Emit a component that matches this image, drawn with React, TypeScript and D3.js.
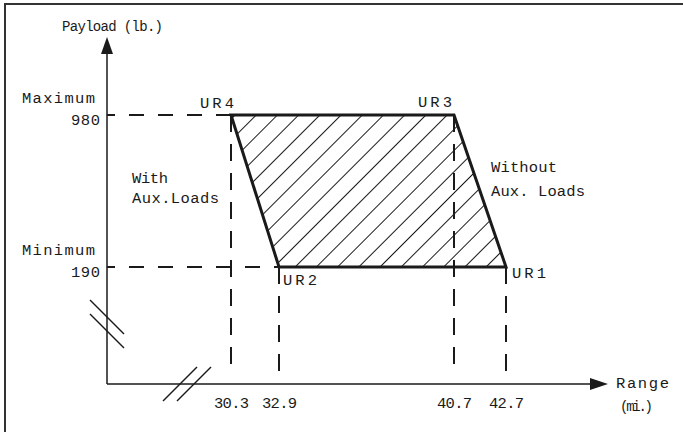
import * as d3 from 'd3';

// axis tick values (schematic, not to scale)
const rangeTicks = [30.3, 32.9, 40.7, 42.7];
const payloadTicks = [190, 980];
const payloadNames = ['Minimum', 'Maximum'];

// envelope corners
const cornerNames = ['UR1', 'UR2', 'UR4', 'UR3'];
const cornerRange = [42.7, 32.9, 30.3, 40.7];
const cornerPayload = [190, 190, 980, 980];

const W = 683;
const H = 432;
const ox = 107; // axis origin
const oy = 384;
const font = '"Liberation Mono", "DejaVu Sans Mono", monospace';
const ink = '#1a1a1a';

// the drawing has broken axes, so each scale is piecewise
const x = d3.scaleLinear().domain(rangeTicks).range([231, 279, 454, 506]);
const y = d3.scaleLinear().domain([190, 980]).range([267, 115]);

const corners = cornerNames.map((name, i) => ({
    name,
    range: cornerRange[i],
    payload: cornerPayload[i],
}));

const labelOffset: Record<string, [number, number]> = {
    UR1: [6, 11],
    UR2: [4, 18],
    UR3: [-36, -8],
    UR4: [-31, -7],
};

const outline = d3.line<{ range: number; payload: number }>()
    .x((d) => x(d.range))
    .y((d) => y(d.payload));

const breakMark = (cx: number, cy: number, dir: number) =>
    `M${cx - 17},${cy - 17 * dir}L${cx + 17},${cy + 17 * dir}`;

// typewriter text, stretched to the width it has in the drawing
const Label = ({ x, y, w, size = 15.5, anchor = 'start', children }: any) => (
    <text
        x={x}
        y={y}
        textLength={w}
        lengthAdjust="spacing"
        textAnchor={anchor}
        fontFamily={font}
        fontSize={size}
        fill={ink}
    >
        {children}
    </text>
);

export default function App() {
    return (
        <svg
            width={W}
            height={H}
            style={{ position: 'absolute', left: 0, top: 0, background: '#fff' }}
        >
            <defs>
                <pattern
                    id="hatch"
                    patternUnits="userSpaceOnUse"
                    width={15}
                    height={15}
                    patternTransform="rotate(45)"
                >
                    <line x1={7.5} y1={0} x2={7.5} y2={15} stroke={ink} strokeWidth={1} />
                </pattern>
            </defs>

            {/* frame */}
            <rect x={5} y={4} width={W + 20} height={H + 20} fill="none" stroke="#333" strokeWidth={2} />

            {/* dashed guides */}
            <g stroke={ink} strokeWidth={2} fill="none">
                {corners
                    .filter((d) => d.name === 'UR2' || d.name === 'UR4')
                    .map((d) => (
                        <line
                            key={'h' + d.name}
                            x1={ox}
                            x2={x(d.range)}
                            y1={y(d.payload)}
                            y2={y(d.payload)}
                            strokeDasharray="15 14"
                            strokeDashoffset={7}
                        />
                    ))}
                {corners.map((d) => (
                    <line
                        key={'v' + d.name}
                        x1={x(d.range)}
                        x2={x(d.range)}
                        y1={y(d.payload)}
                        y2={oy - 11}
                        strokeDasharray="17 12"
                    />
                ))}
            </g>

            {/* payload envelope */}
            <path
                d={outline(corners) + 'Z'}
                fill="url(#hatch)"
                stroke={ink}
                strokeWidth={3}
                strokeLinejoin="miter"
            />

            {/* axes */}
            <g stroke={ink} strokeWidth={1.5} fill="none">
                <line x1={ox} y1={oy} x2={ox} y2={52} />
                <line x1={ox} y1={oy} x2={591} y2={oy} />
                <path d={breakMark(ox, 317, 1)} />
                <path d={breakMark(ox, 331, 1)} />
                <path d={breakMark(180, oy, -1)} />
                <path d={breakMark(194, oy, -1)} />
            </g>
            <path d={`M${ox},37L${ox - 6},54L${ox + 6},54Z`} fill={ink} />
            <path d={`M608,${oy}L590,${oy - 6}L590,${oy + 6}Z`} fill={ink} />

            {/* axis titles */}
            <Label x={62} y={31} w={101} size={14}>Payload (lb.)</Label>
            <Label x={616} y={388} w={53}>Range</Label>
            <Label x={620} y={411} w={33} size={14}>(mi.)</Label>

            {/* payload ticks */}
            {payloadTicks.map((v, i) => (
                <g key={v}>
                    <Label x={22} y={y(v) - 12} w={73}>{payloadNames[i]}</Label>
                    <Label x={100} y={y(v) + 10} w={29} anchor="end">{v}</Label>
                </g>
            ))}

            {/* range ticks */}
            {rangeTicks.map((v) => (
                <Label key={v} x={x(v) - 17} y={408} w={35}>
                    {v.toFixed(1)}
                </Label>
            ))}

            {/* corner labels */}
            {corners.map((d) => (
                <Label
                    key={d.name}
                    x={x(d.range) + labelOffset[d.name][0]}
                    y={y(d.payload) + labelOffset[d.name][1]}
                    w={34}
                >
                    {d.name}
                </Label>
            ))}

            {/* annotations */}
            <Label x={132} y={183} w={36}>With</Label>
            <Label x={132} y={203} w={87}>Aux.Loads</Label>
            <Label x={491} y={172} w={66}>Without</Label>
            <Label x={491} y={196} w={94}>Aux. Loads</Label>
        </svg>
    );
}
